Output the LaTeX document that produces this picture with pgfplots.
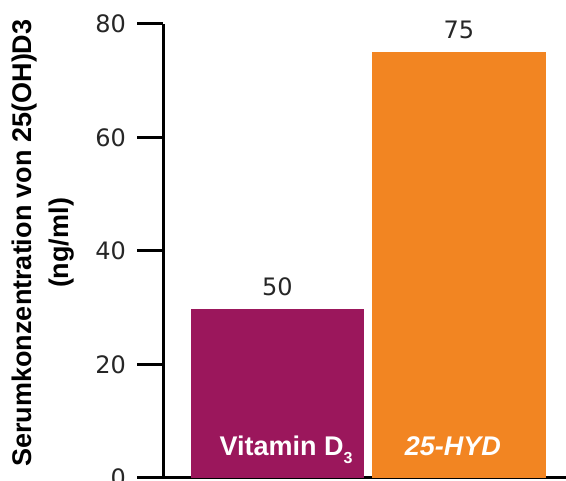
\documentclass[border=0pt]{standalone}
\usepackage{pgfplots}
\pgfplotsset{compat=1.18}
\usepackage{fontspec}
\setmainfont{DejaVu Sans}
\newfontfamily\lib{Liberation Sans}
\definecolor{vitd}{HTML}{9B175C}
\definecolor{hyd}{HTML}{F28522}
\begin{document}
\begin{tikzpicture}
\begin{axis}[
  name=ax,
  scale only axis, width=201.5pt, height=227pt,
  xmin=-0.631, xmax=1.590, ymin=0, ymax=80,
  axis x line=bottom, axis y line=left,
  axis line style={-, line width=1.5pt, black},
  xtick=\empty,
  ytick={0,20,40,60,80},
  tick style={line width=1.5pt, black},
  tick align=outside, major tick length=13pt,
  yticklabel style={font=\fontsize{12}{14}\selectfont, text=black!85, xshift=-2pt},
  /pgf/number format/assume math mode=true,
  ylabel={Serumkonzentration von 25(OH)D3\\(ng/ml)},
  ylabel style={at={(axis description cs:-0.2966,0.5176)}, anchor=center, rotate=0,
    align=center, font=\lib\bfseries\fontsize{13.5}{18.5}\selectfont},
  clip=false,
]
\addplot[ybar, bar shift=0pt, bar width=0.956, fill=vitd, draw=none,
  nodes near coords, point meta=explicit symbolic,
  nodes near coords style={anchor=south, yshift=3pt, text=black!85, font=\fontsize{12}{14}\selectfont}]
  coordinates {(0,29.8) [50]};
\addplot[ybar, bar shift=0pt, bar width=0.956, fill=hyd, draw=none,
  nodes near coords, point meta=explicit symbolic,
  nodes near coords style={anchor=south, yshift=3pt, text=black!85, font=\fontsize{12}{14}\selectfont}]
  coordinates {(1,75.1) [75]};
\node[text=white, anchor=base, font=\lib\bfseries\fontsize{13.5}{16}\selectfont]
  at (axis cs:0.047,4) {Vitamin D\raisebox{-0.6ex}{\fontsize{8}{8}\selectfont 3}};
\node[text=white, anchor=base, font=\lib\bfseries\itshape\fontsize{13.5}{16}\selectfont]
  at (axis cs:0.967,4) {25-HYD};
\end{axis}
\pgfresetboundingbox
\path[use as bounding box] ([xshift=-81.5pt,yshift=-1.5pt]ax.south west) rectangle ([yshift=12pt]ax.north east);
\end{tikzpicture}
\end{document}
